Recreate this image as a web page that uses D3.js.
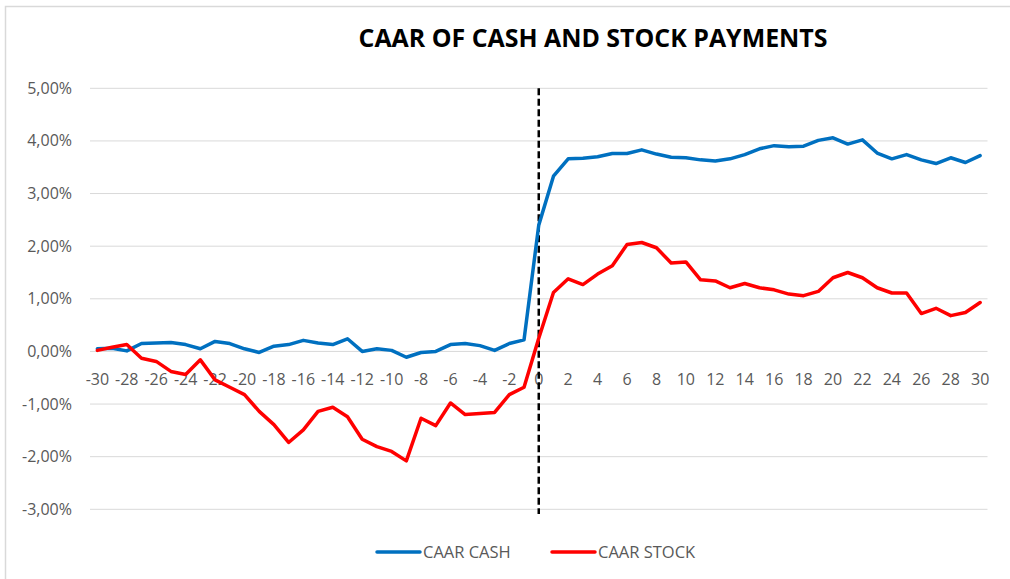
<!DOCTYPE html>
<html>
<head>
<meta charset="utf-8">
<script src="https://cdn.jsdelivr.net/npm/d3@7"></script>
<style>
  body { margin: 0; background: #fff; }
  text { font-family: "Open Sans", "Liberation Sans", sans-serif; }
</style>
</head>
<body>
<script>
// event days -30 .. 30
var days = d3.range(-30, 31)

var cash = [
  0.05, 0.06, 0.01, 0.15, 0.16, 0.17, 0.13, 0.05, 0.19, 0.15,
  0.05, -0.02, 0.10, 0.13, 0.21, 0.16, 0.13, 0.24, 0.00, 0.05,
  0.02, -0.11, -0.02, 0.00, 0.13, 0.15, 0.11, 0.02, 0.15, 0.22,
  2.40,
  3.33, 3.66, 3.67, 3.70, 3.76, 3.76, 3.83, 3.75, 3.69, 3.68,
  3.64, 3.62, 3.66, 3.74, 3.85, 3.91, 3.89, 3.90, 4.01, 4.06,
  3.94, 4.02, 3.77, 3.66, 3.74, 3.64, 3.57, 3.68, 3.59, 3.72
]

var stock = [
  0.02, 0.08, 0.13, -0.13, -0.19, -0.38, -0.44, -0.16, -0.54, -0.68,
  -0.82, -1.14, -1.39, -1.73, -1.49, -1.14, -1.06, -1.24, -1.67, -1.81,
  -1.90, -2.08, -1.27, -1.41, -0.98, -1.20, -1.18, -1.16, -0.82, -0.68,
  0.25,
  1.12, 1.38, 1.27, 1.47, 1.63, 2.03, 2.07, 1.97, 1.68, 1.70,
  1.36, 1.34, 1.21, 1.29, 1.21, 1.17, 1.09, 1.06, 1.14, 1.40,
  1.50, 1.40, 1.21, 1.11, 1.11, 0.72, 0.82, 0.68, 0.74, 0.93
]

var yTicks = [-3, -2, -1, 0, 1, 2, 3, 4, 5]

var series = [
  { name: "CAAR CASH", values: cash, color: "#0070c0" },
  { name: "CAAR STOCK", values: stock, color: "#ff0000" }
]

var width = 1010,
    height = 579

var svg = d3.select("body").append("svg")
    .attr("width", width)
    .attr("height", height)

// chart frame
svg.append("rect")
    .attr("x", 5.5).attr("y", 6.5)
    .attr("width", 1010).attr("height", 600)
    .attr("fill", "none")
    .attr("stroke", "#d9d9d9")
    .attr("stroke-width", 1.5)

var x = d3.scaleBand()
    .domain(days)
    .range([90, 987.5])

var y = d3.scaleLinear()
    .domain([-3, 5])
    .range([509.3, 88.3])

function cx(d) { return x(d) + x.bandwidth() / 2 }

/* gridlines */
svg.append("g")
  .selectAll("line")
  .data(yTicks)
  .enter().append("line")
    .attr("x1", 90).attr("x2", 987.5)
    .attr("y1", function (d) { return y(d) })
    .attr("y2", function (d) { return y(d) })
    .attr("stroke", "#d9d9d9")
    .attr("stroke-width", 1)

/* y axis labels */
var fmt = function (d) { return d3.format(".2f")(d).replace(".", ",").replace("−", "-") + "%" }
svg.append("g")
  .selectAll("text")
  .data(yTicks)
  .enter().append("text")
    .attr("x", 72)
    .attr("y", function (d) { return y(d) + 5.5 })
    .attr("text-anchor", "end")
    .attr("font-size", 16)
    .attr("fill", "#595959")
    .text(fmt)

/* x axis labels, every second day */
svg.append("g")
  .selectAll("text")
  .data(days.filter(function (d) { return d % 2 === 0 }))
  .enter().append("text")
    .attr("x", cx)
    .attr("y", y(0) + 34)
    .attr("text-anchor", "middle")
    .attr("font-size", 16)
    .attr("fill", "#595959")
    .text(function (d) { return d })

/* event-day marker */
svg.append("line")
    .attr("x1", cx(0)).attr("x2", cx(0))
    .attr("y1", y(5)).attr("y2", 514)
    .attr("stroke", "#000")
    .attr("stroke-width", 2.5)
    .attr("stroke-dasharray", "7,3.5")

/* the two lines */
var line = d3.line()
    .x(function (d, i) { return cx(days[i]) })
    .y(function (d) { return y(d) })

svg.append("g")
  .selectAll("path")
  .data(series)
  .enter().append("path")
    .attr("d", function (d) { return line(d.values) })
    .attr("fill", "none")
    .attr("stroke", function (d) { return d.color })
    .attr("stroke-width", 3.5)
    .attr("stroke-linejoin", "round")
    .attr("stroke-linecap", "round")

/* title */
svg.append("text")
    .attr("x", 593)
    .attr("y", 47)
    .attr("text-anchor", "middle")
    .attr("font-size", 25)
    .attr("font-weight", "bold")
    .attr("fill", "#000")
    .attr("textLength", 469)
    .attr("lengthAdjust", "spacingAndGlyphs")
    .text("CAAR OF CASH AND STOCK PAYMENTS")

/* legend */
var legend = svg.append("g")
  .selectAll("g")
  .data(series)
  .enter().append("g")
    .attr("transform", function (d, i) { return "translate(" + (377 + i * 175) + ",552)" })

legend.append("line")
    .attr("x1", 0).attr("x2", 43)
    .attr("stroke", function (d) { return d.color })
    .attr("stroke-width", 3.5)
    .attr("stroke-linecap", "round")

legend.append("text")
    .attr("x", 46)
    .attr("y", 6)
    .attr("font-size", 16.5)
    .attr("fill", "#595959")
    .text(function (d) { return d.name })
</script>
</body>
</html>
